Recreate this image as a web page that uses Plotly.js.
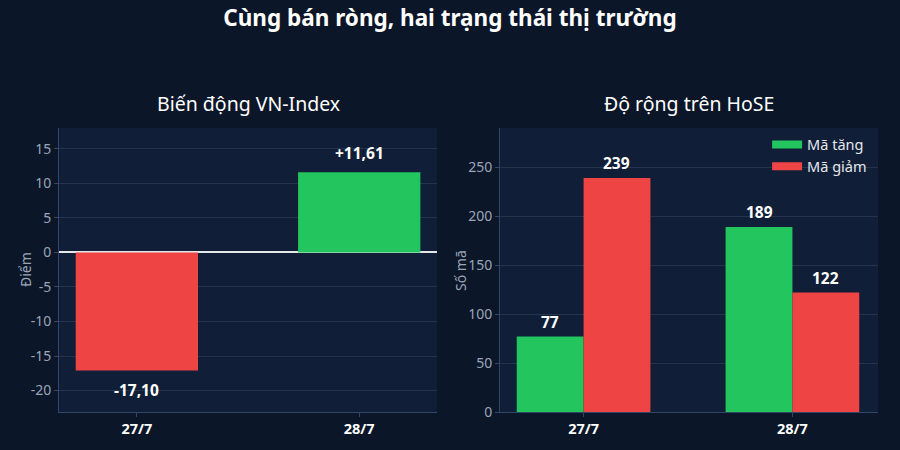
<!DOCTYPE html>
<html lang="vi">
<head>
    <meta charset="UTF-8">
    <title>Cùng bán ròng, hai trạng thái thị trường</title>
    <script src="https://cdn.plot.ly/plotly-3.0.1.min.js"></script>
    <style>
        html, body { margin: 0; padding: 0; background: #0b1628; }
        #chart { width: 900px; height: 450px; }
    </style>
</head>
<body>
    <div id="chart"></div>
    <script>
        // Dữ liệu
        const dates = ['27/7', '28/7'];
        const indexChange = [-17.10, 11.61];
        const advancers = [77, 189];
        const decliners = [239, 122];
        const seriesNames = ['Mã tăng', 'Mã giảm'];
        const indexTicks = [-20, -15, -10, -5, 0, 5, 10, 15];
        const breadthTicks = [0, 50, 100, 150, 200, 250];

        const GREEN = '#22c55e';
        const RED = '#ef4444';
        const FONT = '"Noto Sans", "Open Sans", sans-serif';
        const GRID = '#24344f';
        const LINE = '#34456a';
        const MUTED = '#9aa5b8';

        // dấu trừ thường, không dùng dấu trừ unicode của plotly
        const tickText = arr => arr.map(v => String(v).replace('\u2212', '-'));
        function fmtChange(v) {
            return (v > 0 ? '+' : '') + v.toFixed(2).replace('.', ',');
        }

        const labelFont = { color: '#ffffff', size: 15.5, family: FONT, weight: 'bold' };

        const indexTrace = {
            type: 'bar',
            x: [0, 1],
            y: indexChange,
            width: 0.55,
            xaxis: 'x',
            yaxis: 'y',
            marker: { color: indexChange.map(v => v < 0 ? RED : GREEN) },
            showlegend: false
        };

        const upTrace = {
            type: 'bar', name: seriesNames[0], x: [0, 1], y: advancers,
            xaxis: 'x2', yaxis: 'y2', marker: { color: GREEN }, showlegend: false
        };
        const downTrace = {
            type: 'bar', name: seriesNames[1], x: [0, 1], y: decliners,
            xaxis: 'x2', yaxis: 'y2', marker: { color: RED }, showlegend: false
        };

        // chú thích dạng thanh dẹt
        const legendUp = {
            type: 'scatter', mode: 'lines', name: seriesNames[0], x: [null], y: [null],
            xaxis: 'x2', yaxis: 'y2', line: { color: GREEN, width: 8 }
        };
        const legendDown = {
            type: 'scatter', mode: 'lines', name: seriesNames[1], x: [null], y: [null],
            xaxis: 'x2', yaxis: 'y2', line: { color: RED, width: 8 }
        };

        // nhãn giá trị
        const annotations = [];
        indexChange.forEach((v, i) => annotations.push({
            x: i, y: v, xref: 'x', yref: 'y',
            text: '<b>' + fmtChange(v) + '</b>',
            showarrow: false,
            yanchor: v < 0 ? 'top' : 'bottom',
            yshift: v < 0 ? -6 : 6,
            font: labelFont
        }));
        const half = 0.16;
        advancers.forEach((v, i) => annotations.push({
            x: i - half, y: v, xref: 'x2', yref: 'y2',
            text: '<b>' + v + '</b>', showarrow: false,
            yanchor: 'bottom', yshift: 2, font: labelFont
        }));
        decliners.forEach((v, i) => annotations.push({
            x: i + half, y: v, xref: 'x2', yref: 'y2',
            text: '<b>' + v + '</b>', showarrow: false,
            yanchor: 'bottom', yshift: 2, font: labelFont
        }));

        const subTitles = ['Biến động VN-Index', 'Độ rộng trên HoSE'];
        [0.2756, 0.7656].forEach((cx, i) => annotations.push({
            text: subTitles[i],
            xref: 'paper', yref: 'paper',
            x: cx, y: 1, yshift: 25,
            xanchor: 'center', yanchor: 'middle',
            showarrow: false,
            font: { size: 19.5, color: '#ffffff', family: FONT }
        }));

        // tiêu đề trục tung
        const axisTitles = ['Điểm', 'Số mã'];
        [25 / 900, 460 / 900].forEach((px, i) => annotations.push({
            text: axisTitles[i],
            xref: 'paper', yref: 'paper',
            x: px, y: 0.5,
            xanchor: 'center', yanchor: 'middle',
            textangle: -90,
            showarrow: false,
            font: { size: 14, color: MUTED, family: FONT }
        }));

        const xAxisBase = {
            type: 'linear',
            tickvals: [0, 1],
            ticktext: dates,
            showgrid: false,
            showline: true,
            linecolor: LINE,
            ticks: 'outside',
            ticklen: 4,
            tickcolor: LINE,
            tickfont: { color: '#ffffff', size: 14.5, family: FONT, weight: 'bold' },
            zeroline: false,
            fixedrange: true
        };

        const yAxisBase = {
            showgrid: true,
            gridcolor: GRID,
            showline: true,
            linecolor: LINE,
            ticks: 'outside',
            ticklen: 4,
            tickcolor: LINE,
            tickfont: { color: MUTED, size: 14, family: FONT },
            fixedrange: true
        };

        const layout = {
            width: 900,
            height: 450,
            paper_bgcolor: '#0b1628',
            plot_bgcolor: '#111e38',
            font: { family: FONT, color: '#e5e7eb' },
            margin: { l: 0, r: 0, t: 128, b: 38 },
            bargap: 0.36,
            barmode: 'group',
            title: {
                text: '<b>Cùng bán ròng, hai trạng thái thị trường</b>',
                font: { size: 22.5, color: '#ffffff', family: FONT },
                x: 0.5,
                y: 0.96,
                yanchor: 'middle'
            },
            xaxis: Object.assign({}, xAxisBase, { domain: [0.0656, 0.4856], anchor: 'y', range: [-0.35, 1.35] }),
            yaxis: Object.assign({}, yAxisBase, {
                domain: [0, 1],
                anchor: 'x',
                range: [-23.1, 18],
                tickvals: indexTicks,
                ticktext: tickText(indexTicks),
                zeroline: true,
                zerolinecolor: '#e5e7eb',
                zerolinewidth: 2
            }),
            xaxis2: Object.assign({}, xAxisBase, { domain: [0.5556, 0.9756], anchor: 'y2', range: [-0.4, 1.41] }),
            yaxis2: Object.assign({}, yAxisBase, {
                domain: [0, 1],
                anchor: 'x2',
                range: [0, 290],
                tickvals: breadthTicks,
                ticktext: tickText(breadthTicks),
                zeroline: false
            }),
            legend: {
                x: 0.969,
                y: 0.998,
                xanchor: 'right',
                yanchor: 'top',
                bgcolor: 'rgba(0,0,0,0)',
                tracegroupgap: 0,
                font: { color: '#e5e7eb', size: 14.5, family: FONT }
            },
            annotations: annotations
        };

        Plotly.newPlot('chart', [indexTrace, upTrace, downTrace, legendUp, legendDown], layout, {
            displayModeBar: false,
            staticPlot: true
        });
    </script>
</body>
</html>
